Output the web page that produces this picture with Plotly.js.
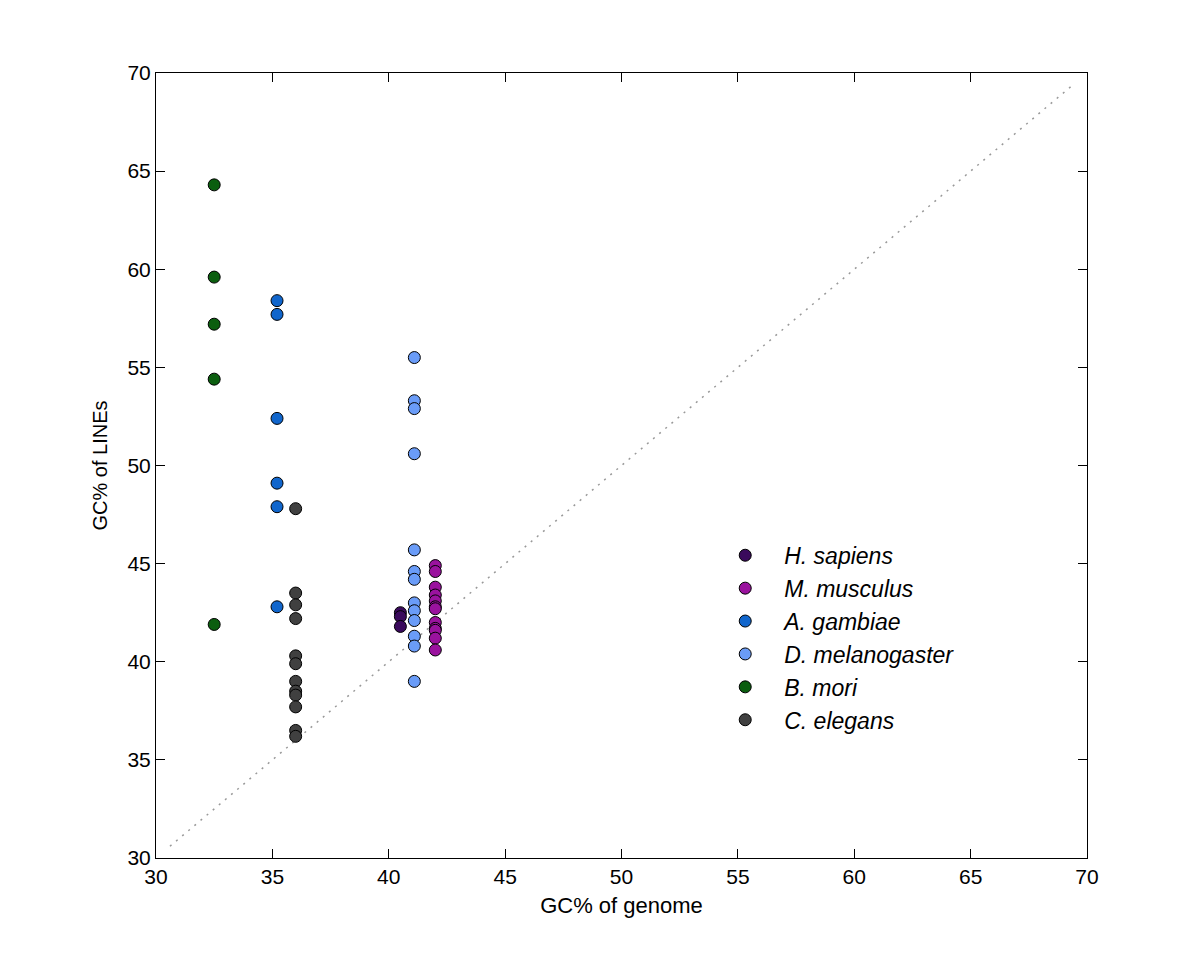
<!DOCTYPE html>
<html>
<head>
<meta charset="utf-8">
<script src="https://cdn.plot.ly/plotly-3.0.1.min.js"></script>
<style>html,body{margin:0;padding:0;background:#fff;}#chart{width:1200px;height:966px;}</style>
</head>
<body>
<div id="chart"></div>
<script>
const speciesNames = ["H. sapiens", "M. musculus", "A. gambiae", "D. melanogaster", "B. mori", "C. elegans"];
const speciesColors = ["#3a0a5c", "#9a129e", "#1166cc", "#6a9cf8", "#0b5e0f", "#404040"];

const hsapiensGenome = 40.5;
const hsapiensLines = [42.5, 42.3, 41.8];

const mmusculusGenome = 42.0;
const mmusculusLines = [44.9, 44.6, 43.8, 43.4, 43.1, 42.8, 42.7, 42.0, 41.7, 41.6, 41.2, 40.6];

const agambiaeGenome = 35.2;
const agambiaeLines = [58.4, 57.7, 52.4, 49.1, 47.9, 42.8];

const dmelanogasterGenome = 41.1;
const dmelanogasterLines = [55.5, 53.3, 52.9, 50.6, 45.7, 44.6, 44.2, 43.0, 42.6, 42.1, 41.3, 40.8, 39.0];

const bmoriGenome = 32.5;
const bmoriLines = [64.3, 59.6, 57.2, 54.4, 41.9];

const celegansGenome = 36.0;
const celegansLines = [47.8, 43.5, 42.9, 42.2, 40.3, 39.9, 39.0, 38.5, 38.3, 37.7, 36.5, 36.2];

const diagonal = [30.6, 69.4];

const xTicks = [30, 35, 40, 45, 50, 55, 60, 65, 70];
const yTicks = [30, 35, 40, 45, 50, 55, 60, 65, 70];

const genomes = [hsapiensGenome, mmusculusGenome, agambiaeGenome, dmelanogasterGenome, bmoriGenome, celegansGenome];
const lines = [hsapiensLines, mmusculusLines, agambiaeLines, dmelanogasterLines, bmoriLines, celegansLines];

const FONT = 'Liberation Sans, Arial, sans-serif';

const traces = [{
  x: diagonal, y: diagonal, mode: 'lines', showlegend: false, hoverinfo: 'skip',
  line: {color: '#999999', width: 1.5, dash: '2px,6px'}
}];
speciesNames.forEach((n, i) => {
  traces.push({
    x: lines[i].map(() => genomes[i]),
    y: lines[i],
    mode: 'markers',
    type: 'scatter',
    name: '<i>' + n + '</i>',
    marker: {color: speciesColors[i], size: 12, line: {color: '#000', width: 1}}
  });
});

const axisCommon = {
  range: [30, 70], tickvals: xTicks, ticks: 'inside', ticklen: 9, tickwidth: 1, tickcolor: '#000',
  showline: true, linecolor: '#000', linewidth: 1, mirror: 'ticks', showgrid: false, zeroline: false,
  tickfont: {family: FONT, size: 21, color: '#000'}
};

const layout = {
  width: 1200, height: 966,
  margin: {l: 156, r: 113, t: 73, b: 108},
  paper_bgcolor: '#fff', plot_bgcolor: '#fff',
  showlegend: true,
  legend: {x: 0.591, y: 0.413, xanchor: 'left', yanchor: 'top', bgcolor: 'rgba(0,0,0,0)', itemwidth: 68,
    font: {family: FONT, size: 23, color: '#000'}, tracegroupgap: 0},
  xaxis: Object.assign({}, axisCommon, {
    title: {text: 'GC% of genome', standoff: 10, font: {family: FONT, size: 22, color: '#000'}}
  }),
  yaxis: Object.assign({}, axisCommon, {
    tickvals: yTicks,
    title: {text: 'GC% of LINEs', standoff: 14, font: {family: FONT, size: 20, color: '#000'}}
  })
};

Plotly.newPlot('chart', traces, layout, {displayModeBar: false, staticPlot: true});
</script>
</body>
</html>
